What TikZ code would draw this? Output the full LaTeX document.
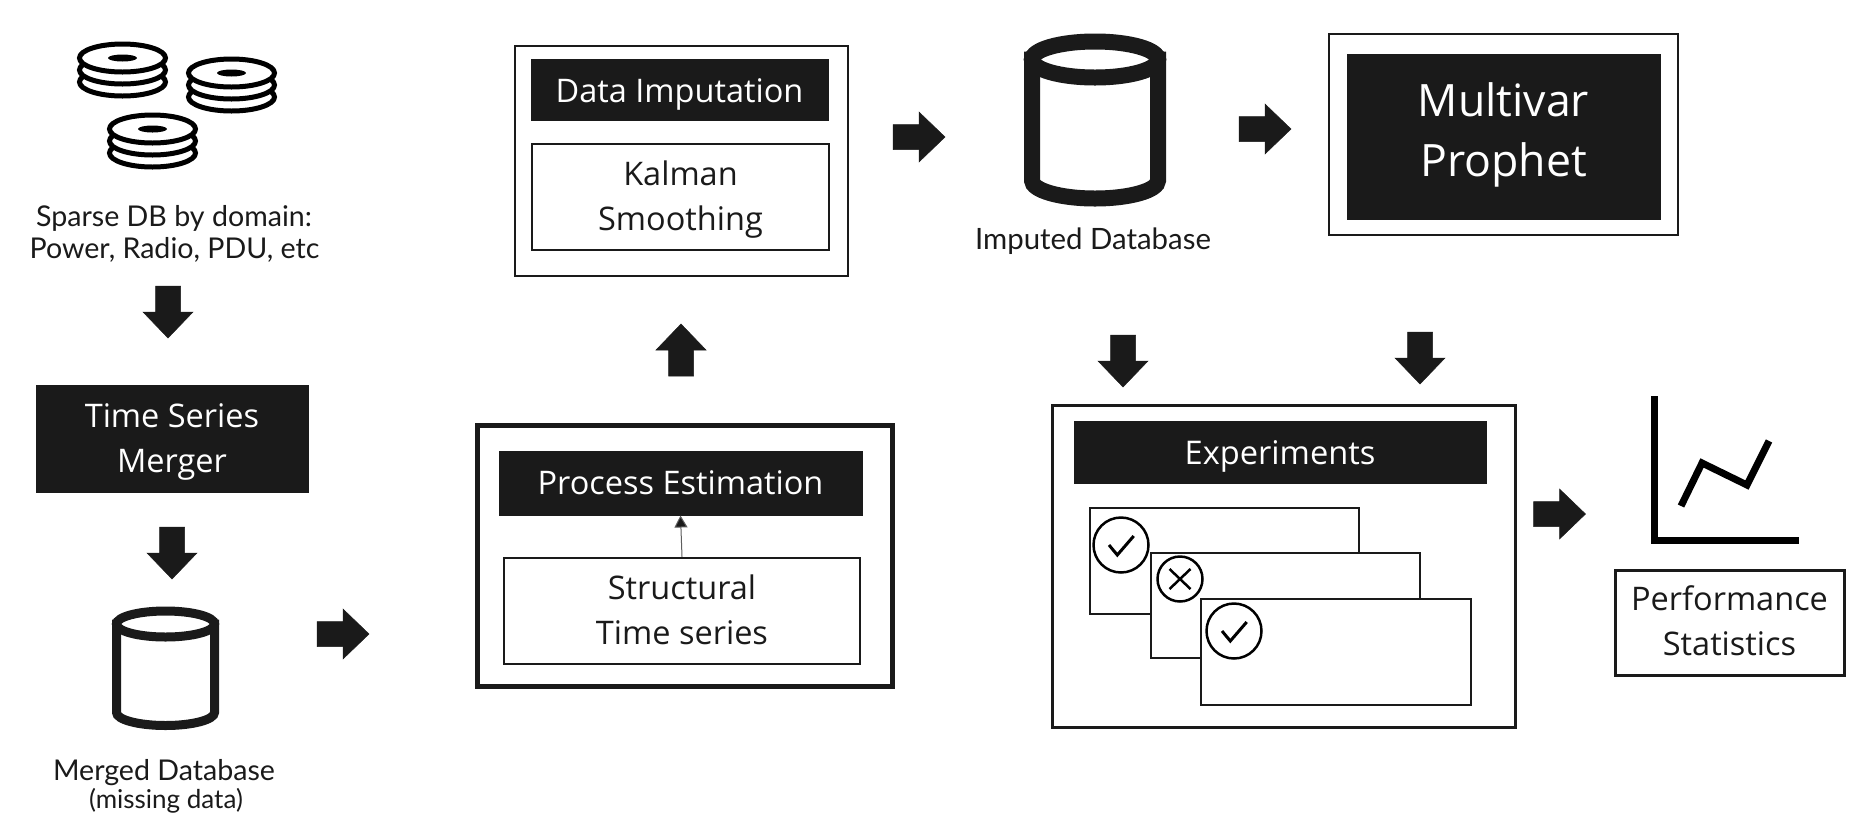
\documentclass[tikz,border=0pt]{standalone}
\usepackage{fontspec}
\setmainfont{Open Sans}
\newfontfamily\hilda{Lato}
\usetikzlibrary{arrows.meta}
\definecolor{ink}{HTML}{1A1A1A}
\tikzset{
  boxwhite/.style={draw=ink,line width=2.5pt,fill=white,text=ink,inner sep=0pt},
  boxblack/.style={draw=ink,line width=1pt,fill=ink,text=white,inner sep=0pt},
  lbl/.style={text=ink,inner sep=0pt,font=\hilda\fontsize{28.6}{28.6}\selectfont},
  blockarrow/.pic={\fill[ink,draw=ink,line width=.5pt] (-26,-12.5)--(0,-12.5)--(0,-25)--(26,0)--(0,25)--(0,12.5)--(-26,12.5)--cycle;},
  disk/.style={draw=black,line width=5pt,fill=white},
  diskstack/.pic={
    \path[disk] (0,24) ellipse[x radius=43pt,y radius=14pt];
    \path[disk] (0,12) ellipse[x radius=43pt,y radius=14pt];
    \path[disk] (0,0) ellipse[x radius=43pt,y radius=14pt];
    \fill[black] (0,0) ellipse[x radius=14.5pt,y radius=3.5pt];
  },
  tick/.style={draw=black,line width=2.5pt,fill=white},
  okmark/.pic={\path[tick] (0,0) circle[radius=27.5pt];
    \draw[black,line width=3pt] (-12,0)--(-3.7,10)--(12.7,-9);},
  nomark/.pic={\path[tick] (0,0) circle[radius=22.5pt];
    \draw[black,line width=2.5pt] (-10.5,-10)--(10.5,10) (-10.5,10)--(10.5,-10);},
}
\newcommand{\tx}[2]{\raisebox{#1}[\height][\depth]{\begin{tabular}{@{}c@{}}#2\end{tabular}}}
\newcommand{\rectnode}[7]{%
  \pgfmathsetmacro{\rw}{#5-#3}\pgfmathsetmacro{\rh}{#6-#4}%
  \pgfmathsetmacro{\rx}{(#3+#5)/2}\pgfmathsetmacro{\ry}{(#4+#6)/2}%
  \node[#2,minimum width=\rw pt,minimum height=\rh pt] (#1) at (\rx,\ry) {#7};}
\newcommand{\cyl}[6]{% x1 x2 ytop-centre ybot-centre ry stroke
  \pgfmathsetmacro{\cxm}{(#1+#2)/2}\pgfmathsetmacro{\crx}{(#2-#1)/2}%
  \draw[ink,line width=#6pt,fill=white] (#1,#4) -- (#1,#3) -- (#2,#3) -- (#2,#4) arc[start angle=0,end angle=-180,x radius=\crx pt,y radius=#5pt] -- cycle;
  \draw[ink,line width=#6pt,fill=white] (\cxm,#3) ellipse[x radius=\crx pt,y radius=#5pt];}
\begin{document}
\begin{tikzpicture}[x=1pt,y=-1pt]
\useasboundingbox (0,0) rectangle (1850,831);

% disks
\pic at (122.5,58) {diskstack};
\pic at (231.5,73) {diskstack};
\pic at (152.5,129) {diskstack};
\node[lbl,anchor=base] (sparseA) at (174,226) {Sparse DB by domain:};
\node[lbl,anchor=base] (sparseB) at (174.5,258) {Power, Radio, PDU, etc};

% merger
\rectnode{merger}{boxblack,font=\fontsize{32.5}{45}\selectfont}{36}{385}{308}{492}{\tx{-2pt}{Time Series\\Merger}}

% merged db
\cyl{116.5}{214.5}{624}{712.5}{13}{9}
\node[lbl,anchor=base] (mergedA) at (164,780) {Merged Database};
\node[lbl,anchor=base,font=\hilda\fontsize{26}{26}\selectfont] (mergedB) at (166,808) {(missing data)};

% process estimation
\rectnode{peOuter}{boxwhite,line width=5pt}{477}{425}{892}{686}{}
\rectnode{pe}{boxblack,font=\fontsize{32.5}{32.5}\selectfont}{499}{451}{862}{515}{\tx{-4.7pt}{Process Estimation}}
\rectnode{sts}{boxwhite,font=\fontsize{32.5}{45}\selectfont}{504}{558}{860}{664}{\tx{-2.4pt}{Structural\\Time series}}
\draw[draw=ink!70,line width=1pt,-{Triangle[length=12pt,width=13pt,fill=ink]}] (sts.north) -- (pe.south);

% data imputation
\rectnode{diOuter}{boxwhite}{515}{46}{848}{276}{}
\rectnode{di}{boxblack,font=\fontsize{32.5}{32.5}\selectfont}{531}{59}{828}{120}{\tx{-6pt}{Data Imputation}}
\rectnode{kal}{boxwhite,font=\fontsize{32.5}{45}\selectfont}{532}{144}{829}{250}{\tx{-2.4pt}{Kalman\\Smoothing}}

% imputed db
\cyl{1032}{1158}{59.5}{180.5}{18}{16}
\node[lbl,anchor=base,font=\hilda\fontsize{29.4}{29.4}\selectfont] (imputed) at (1093,249) {Imputed Database};

% multivar
\rectnode{mvOuter}{boxwhite}{1329}{34}{1678}{235}{}
\rectnode{mv}{boxblack,font=\fontsize{44.6}{60}\selectfont}{1347}{54}{1660}{219}{\tx{2pt}{Multivar\\Prophet}}

% experiments
\rectnode{expOuter}{boxwhite,line width=3pt}{1052}{405}{1515}{727}{}
\rectnode{exp}{boxblack,font=\fontsize{32.6}{32.6}\selectfont}{1074}{421}{1486}{483}{\tx{-5.9pt}{Experiments}}
\rectnode{cardA}{boxwhite,line width=2pt}{1090}{507.5}{1359}{613.5}{}
\rectnode{cardB}{boxwhite,line width=2pt}{1151}{552.5}{1420}{657.5}{}
\rectnode{cardC}{boxwhite,line width=2pt}{1201}{598.5}{1471}{704.5}{}
\pic at (1121,545) {okmark};
\pic at (1180,579) {nomark};
\pic at (1234,631) {okmark};

% chart
\draw[black,line width=7pt,miter limit=10] (1654.5,396) -- (1654.5,540.5) -- (1799,540.5);
\draw[black,line width=7pt] (1681,506) -- (1702,463) -- (1747,485) -- (1769,441);
\rectnode{perf}{boxwhite,line width=3pt,font=\fontsize{32.5}{45}\selectfont}{1615}{570}{1844}{675}{\tx{-1.2pt}{Performance\\Statistics}}

% block arrows
\pic[rotate=-90] at (168,312) {blockarrow};
\pic[rotate=-90] at (172,553) {blockarrow};
\pic at (343,634) {blockarrow};
\pic[rotate=90] at (681,350) {blockarrow};
\pic at (919,137) {blockarrow};
\pic at (1265,129) {blockarrow};
\pic[rotate=-90] at (1123,361) {blockarrow};
\pic[rotate=-90] at (1420,358) {blockarrow};
\pic at (1559.5,514) {blockarrow};
\end{tikzpicture}
\end{document}
